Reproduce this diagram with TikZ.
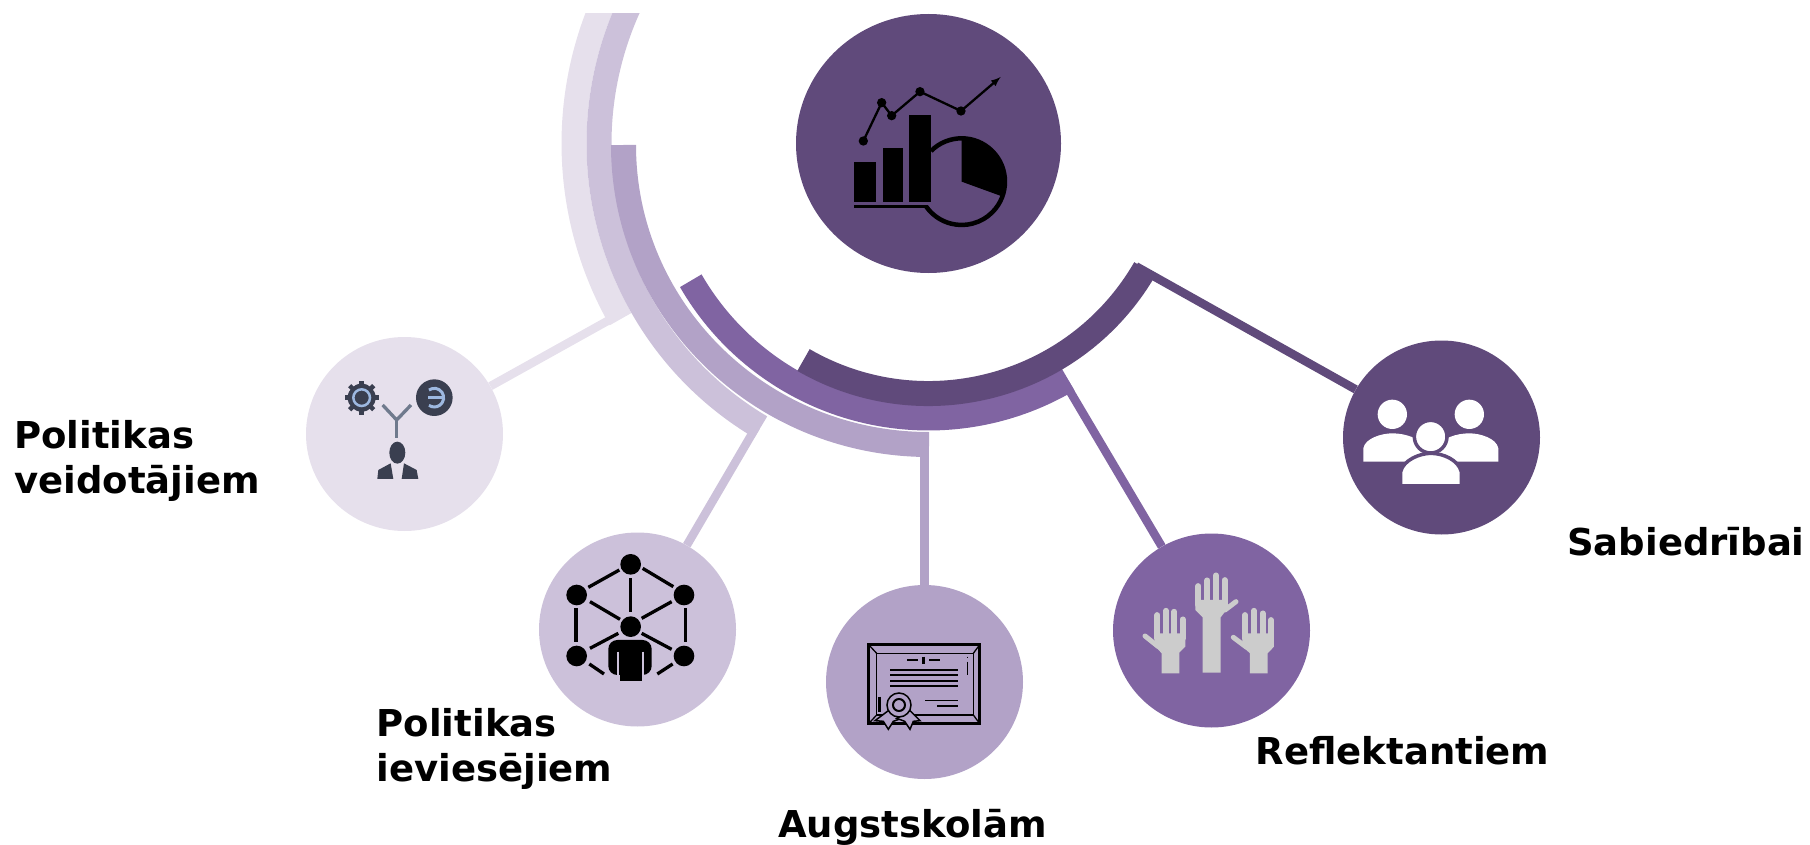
\documentclass[tikz,border=0pt]{standalone}
\usepackage{xcolor}
\usepackage{tikz}
\usepackage{fontspec}
\usetikzlibrary{shapes.geometric}
\setmainfont{DejaVu Sans}
\definecolor{plumdark}{HTML}{604A7B}
\definecolor{plummid}{HTML}{8064A2}
\definecolor{plumsoft}{HTML}{B2A2C7}
\definecolor{plumpale}{HTML}{CCC1DA}
\definecolor{plumfaint}{HTML}{E6E0EC}
\definecolor{inkslate}{HTML}{3A3F50}
\definecolor{inkblue}{HTML}{9DB8E0}
\definecolor{inkstem}{HTML}{6F7A8D}
\definecolor{handgray}{HTML}{CCCCCC}
\tikzset{
    hubdisc/.style={ellipse, inner sep=0pt, minimum width=265pt, minimum height=259pt},
    disc/.style={ellipse, inner sep=0pt, minimum width=197pt, minimum height=194pt},
    ringarc/.style={line width=25pt},
    linkline/.style={line width=8.5pt},
    caption/.style={anchor=base west, align=left, inner sep=0pt, text=black, font=\fontsize{37}{45}\selectfont\bfseries},
    iconscale/.style={x=0.3333pt, y=-0.3333pt}
}

\begin{document}
\begin{tikzpicture}[x=1pt, y=-1pt]
    \useasboundingbox (0,0) rectangle (1810,845);

    \node[hubdisc, fill=plumdark] (analysis) at (928.5,143.5) {};
    \node[disc, fill=plumfaint] (makers) at (404.5,434) {};
    \node[disc, fill=plumpale] (implementers) at (637.5,629.5) {};
    \node[disc, fill=plumsoft] (colleges) at (924.5,682) {};
    \node[disc, fill=plummid] (applicants) at (1211.5,630.5) {};
    \node[disc, fill=plumdark] (society) at (1441.5,437.5) {};

    \coordinate (makersfoot) at (625,311.2);
    \coordinate (implementersfoot) at (756,427);
    \coordinate (collegesfoot) at (924.5,445);
    \coordinate (applicantsfoot) at (1065,383);
    \coordinate (societyfoot) at (1136,266.3);

    \begin{scope}
        \clip (0,14) rectangle (1810,845);
        \draw[ringarc, plumfaint] (analysis.center) ++(150.3:354.5) arc[start angle=150.3, end angle=215, radius=354.5];
        \draw[ringarc, plumpale] (analysis.center) ++(120.6:329.5) arc[start angle=120.6, end angle=215, radius=329.5];
    \end{scope}
    \draw[ringarc, plumsoft] (929,444.5) arc[start angle=90, end angle=180, x radius=305.5, y radius=299.5];
    \draw[ringarc, plummid] (analysis.center) ++(59.4:274.5) arc[start angle=59.4, end angle=150, radius=274.5];
    \draw[ringarc, plumdark] (analysis.center) ++(30:250) arc[start angle=30, end angle=120, radius=250];

    \draw[linkline, plumfaint] (makersfoot) -- (makers);
    \draw[linkline, plumpale] (implementersfoot) -- (implementers);
    \draw[linkline, plumsoft] (collegesfoot) -- (colleges);
    \draw[linkline, plummid] (applicantsfoot) -- (applicants);
    \draw[linkline, plumdark] (societyfoot) -- (society);

    \begin{scope}[shift={(780,10)}, iconscale]
        \fill (222,455) rectangle (288,575);
        \fill (308,413) rectangle (370,575);
        \fill (387,315) rectangle (452,575);
        \draw[line width=2.5pt] (222,590) -- (445,590);
        \draw[line width=2.3pt, -latex] (250,393) -- (305,278) -- (335,317) -- (420,245) -- (543,303) -- (662,201);
        \foreach \px/\py in {250/393,305/278,335/317,420/245,543/303}
            \fill (\px,\py) circle[radius=14];
        \draw[line width=4.5pt] (545,515) ++(225:130) arc[start angle=225, end angle=505, radius=130];
        \fill (545,515) -- ++(270:132) arc[start angle=270, end angle=380, radius=132] -- cycle;
    \end{scope}

    \begin{scope}[shift={(300,330)}, iconscale]
        \foreach \a in {0,45,...,315}
            \draw[inkslate, line width=4.5pt] (185,203) ++(\a:36) -- ++(\a:15);
        \fill[inkslate] (185,203) circle[radius=42];
        \draw[inkblue, line width=2.5pt] (185,203) circle[radius=25];
        \fill[inkslate] (403,203) circle[radius=55];
        \draw[inkblue, line width=3pt] (403,203) ++(-125:28) arc[start angle=-125, end angle=125, radius=28];
        \draw[inkblue, line width=3pt] (385,203) -- (430,203);
        \draw[inkstem, line width=3.3pt] (248,225) -- (290,270) -- (333,225);
        \draw[inkstem, line width=3.3pt] (290,270) -- (290,325);
        \fill[inkslate] (292,368) ellipse[x radius=24, y radius=33];
        \fill[inkslate] (232,447) -- (235,420) -- (272,400) -- (280,447) -- cycle;
        \fill[inkslate] (355,447) -- (350,420) -- (312,400) -- (305,447) -- cycle;
    \end{scope}

    \begin{scope}[shift={(540,530)}, iconscale]
        \foreach \px/\py in {272/103,110/195,432/195,110/378,432/378,272/290}
            \fill (\px,\py) circle[radius=31];
        \foreach \ax/\ay/\bx/\by in {145/172/238/120,308/115/400/170,272/145/272/245,150/215/240/268,305/265/395/215,108/235/108/335,436/235/436/335,150/355/235/310,305/310/395/358,148/402/192/432,352/432/398/402}
            \draw[line width=3.3pt] (\ax,\ay) -- (\bx,\by);
        \fill[rounded corners=9pt] (205,435) -- (205,330) -- (335,330) -- (335,435) -- cycle;
        \fill (240,400) rectangle (305,452);
        \draw[plumpale, line width=2pt] (233,365) -- (233,440);
        \draw[plumpale, line width=2pt] (308,365) -- (308,440);
    \end{scope}

    \begin{scope}[shift={(830,590)}, iconscale]
        \draw[line width=3pt] (115,163) rectangle (450,402);
        \draw[line width=1.6pt] (140,190) rectangle (430,375);
        \foreach \ax/\ay/\bx/\by in {115/163/140/190,450/163/430/190,450/402/430/375,115/402/140/375}
            \draw[line width=1.3pt] (\ax,\ay) -- (\bx,\by);
        \foreach \ly in {240,255,272,288}
            \draw[line width=2pt] (180,\ly) -- (385,\ly);
        \draw[line width=2pt] (232,210) -- (265,210);
        \draw[line width=2pt] (298,210) -- (330,210);
        \draw[line width=2.5pt] (281,200) -- (281,222);
        \draw[line width=1.6pt] (285,332) -- (385,332);
        \draw[line width=2pt] (322,348) -- (385,348);
        \draw[line width=1.5pt] (412,200) -- (412,205);
        \draw[line width=1.5pt] (412,215) -- (412,255);
        \draw[line width=2.5pt] (148,320) -- (148,365);
        \draw[line width=1.5pt, fill=plumsoft] (175,362) -- (135,392) -- (160,394) -- (175,418) -- (190,394) -- (215,385) -- cycle;
        \draw[line width=1.5pt, fill=plumsoft] (240,362) -- (270,392) -- (250,394) -- (240,418) -- (224,394) -- (200,385) -- cycle;
        \draw[line width=1.5pt, fill=plumsoft] (207,345) circle[radius=36];
        \draw[line width=2pt] (207,345) circle[radius=18];
    \end{scope}

    \begin{scope}[shift={(1110,530)}, iconscale, handgray]
        \foreach \fx/\fy in {265/168,292/151,318/136,344/150}
            \draw[line width=5.7pt, line cap=round] (\fx,\fy) -- (\fx,225);
        \fill (256,210) -- (353,210) -- (353,235) -- (332,262) -- (332,428) -- (278,428) -- (278,262) -- (256,240) -- cycle;
        \draw[line width=5pt, line cap=round] (345,240) -- (378,215);
        \foreach \fx/\fy in {142/255,168/242,193/245,218/268}
            \draw[line width=5.7pt, line cap=round] (\fx,\fy) -- (\fx,325);
        \fill (133,310) -- (226,310) -- (226,350) -- (208,368) -- (208,430) -- (155,430) -- (155,370) -- (135,348) -- cycle;
        \draw[line width=5pt, line cap=round] (105,318) -- (145,350);
        \foreach \fx/\fy in {405/255,432/242,458/250,483/270}
            \draw[line width=5.7pt, line cap=round] (\fx,\fy) -- (\fx,325);
        \fill (396,310) -- (492,310) -- (492,350) -- (473,370) -- (473,430) -- (420,430) -- (420,370) -- (398,350) -- cycle;
        \draw[line width=5pt, line cap=round] (370,322) -- (410,352);
    \end{scope}

    \begin{scope}[shift={(1340,340)}, iconscale, white]
        \fill (157,223) circle[radius=44];
        \fill (388,223) circle[radius=44];
        \fill (70,365) -- (70,325) .. controls (75,295) and (125,280) .. (157,280) .. controls (195,280) and (245,295) .. (250,325) -- (250,365) -- cycle;
        \fill (475,365) -- (475,325) .. controls (470,295) and (420,280) .. (388,280) .. controls (350,280) and (300,295) .. (295,325) -- (295,365) -- cycle;
        \draw[plumdark, line width=3.5pt, fill=white] (272,290) circle[radius=49];
        \draw[plumdark, line width=3.5pt, fill=white] (182,438) -- (182,395) .. controls (190,360) and (240,340) .. (272,340) .. controls (310,340) and (355,360) .. (364,395) -- (364,438);
        \fill[plumdark] (150,433) rectangle (400,445);
    \end{scope}

    \node[caption] (makerstext) at (14,493) {Politikas\\veidotājiem};
    \node[caption] (implementerstext) at (376.5,781) {Politikas\\ieviesējiem};
    \node[caption] (collegestext) at (778,837) {Augstskolām};
    \node[caption] (applicantstext) at (1255.5,764) {Reflektantiem};
    \node[caption] (societytext) at (1567,555) {Sabiedrībai};
\end{tikzpicture}
\end{document}
